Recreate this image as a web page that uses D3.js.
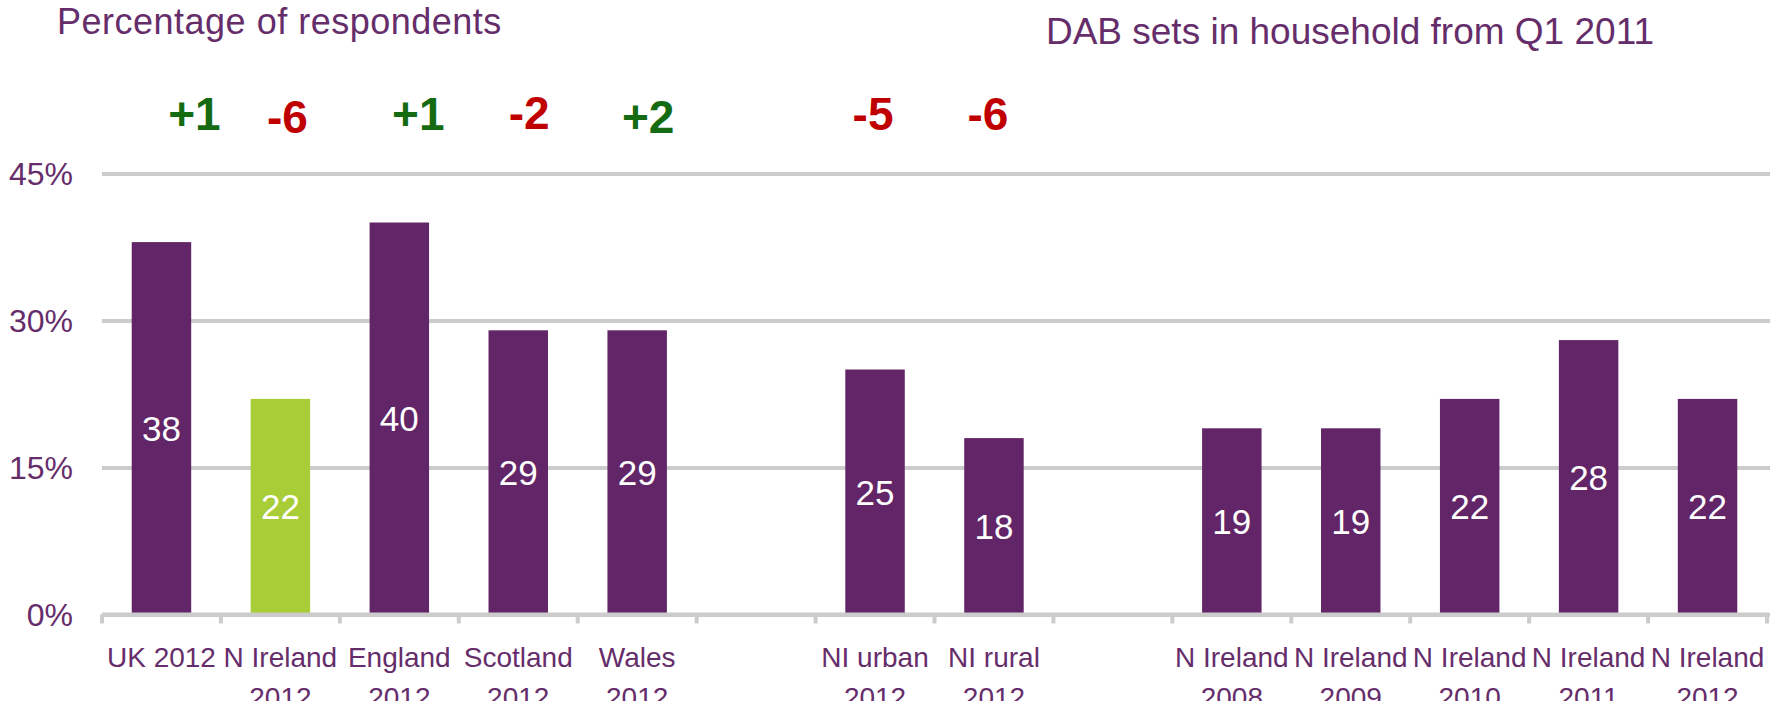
<!DOCTYPE html>
<html>
<head>
<meta charset="utf-8">
<script src="https://cdn.jsdelivr.net/npm/d3@7"></script>
<style>
  body { margin: 0; background: #fff; }
  svg { display: block; font-family: "Liberation Sans", Arial, sans-serif; }
</style>
</head>
<body>
<svg width="1783" height="701"></svg>
<script>
// chart data
const categories = ["UK 2012", "N Ireland 2012", "England 2012", "Scotland 2012", "Wales 2012", "",
    "NI urban 2012", "NI rural 2012", "",
    "N Ireland 2008", "N Ireland 2009", "N Ireland 2010", "N Ireland 2011", "N Ireland 2012"];
const values = [38, 22, 40, 29, 29, null, 25, 18, null, 19, 19, 22, 28, 22];
const changes = ["+1", "-6", "+1", "-2", "+2", null, "-5", "-6", null, null, null, null, null, null];
const highlightIndex = 1;
const yTicks = [0, 15, 30, 45];

// small horizontal nudges of the change labels, as placed in the original
const changeDx = [33, 7, 19, 11, 11, 0, -2, -6, 0, 0, 0, 0, 0, 0];
const changeY = [129.5, 133, 129.5, 128.5, 133, 0, 130, 130];

const svg = d3.select("svg");
const purple = "#622567";
const textPurple = "#662d6b";
const green = "#a8cd37";
const grid = "#cccccc";

const plotLeft = 102, plotRight = 1767, plotTop = 173.5, plotBottom = 614.5;

const x = d3.scaleBand()
    .domain(d3.range(categories.length))
    .range([plotLeft, plotRight])
    .paddingInner(0.5)
    .paddingOuter(0.25);

const y = d3.scaleLinear()
    .domain([0, 45])
    .range([plotBottom, plotTop]);

// titles
svg.append("text")
    .attr("x", 57)
    .attr("y", 34)
    .attr("fill", textPurple)
    .style("font-size", "36px")
    .style("letter-spacing", "0.5px")
    .text("Percentage of respondents");

svg.append("text")
    .attr("x", 1350)
    .attr("y", 44)
    .attr("text-anchor", "middle")
    .attr("fill", textPurple)
    .style("font-size", "37px")
    .text("DAB sets in household from Q1 2011");

// y axis with gridlines
const yAxis = svg.append("g")
    .attr("transform", `translate(${plotLeft},0)`)
    .call(d3.axisLeft(y)
        .tickValues(yTicks)
        .tickSize(-(plotRight - plotLeft + 3))
        .tickPadding(29)
        .tickFormat(d => d + "%"));

yAxis.select(".domain").remove();
yAxis.selectAll("line")
    .attr("stroke", grid)
    .attr("stroke-width", 4);
yAxis.selectAll("text")
    .attr("fill", textPurple)
    .style("font-size", "32px")
    .attr("dy", "0.35em");

// x axis tick marks at category boundaries
const step = x.step();
svg.append("g")
    .selectAll("line")
    .data(d3.range(categories.length + 1))
    .enter().append("line")
    .attr("x1", i => plotLeft + i * step)
    .attr("x2", i => plotLeft + i * step)
    .attr("y1", plotBottom)
    .attr("y2", plotBottom + 9)
    .attr("stroke", grid)
    .attr("stroke-width", 4);

// bars
const data = categories.map((c, i) => ({ i, name: c, value: values[i], change: changes[i] }));
const barData = data.filter(d => d.value != null);

svg.append("g")
    .selectAll("rect")
    .data(barData)
    .enter().append("rect")
    .attr("x", d => x(d.i))
    .attr("y", d => y(d.value))
    .attr("width", x.bandwidth())
    .attr("height", d => plotBottom - y(d.value))
    .attr("fill", d => d.i === highlightIndex ? green : purple);

// value labels, centred in the bars
svg.append("g")
    .selectAll("text")
    .data(barData)
    .enter().append("text")
    .attr("x", d => x(d.i) + x.bandwidth() / 2)
    .attr("y", d => (y(d.value) + plotBottom) / 2)
    .attr("dy", "0.36em")
    .attr("text-anchor", "middle")
    .attr("fill", "#fff")
    .style("font-size", "35px")
    .text(d => d.value);

// change labels above the chart
svg.append("g")
    .selectAll("text")
    .data(data.filter(d => d.change))
    .enter().append("text")
    .attr("x", d => x(d.i) + x.bandwidth() / 2 + changeDx[d.i])
    .attr("y", d => changeY[d.i])
    .attr("text-anchor", "middle")
    .attr("fill", d => d.change.startsWith("+") ? "#156b12" : "#c00000")
    .style("font-size", "46px")
    .style("font-weight", "bold")
    .text(d => d.change);

// x axis line
svg.append("line")
    .attr("x1", plotLeft)
    .attr("x2", plotRight + 2)
    .attr("y1", plotBottom)
    .attr("y2", plotBottom)
    .attr("stroke", grid)
    .attr("stroke-width", 4);

// category labels, wrapped to the band width
const catLabels = svg.append("g")
    .selectAll("text")
    .data(data.filter(d => d.name))
    .enter().append("text")
    .attr("x", d => x(d.i) + x.bandwidth() / 2)
    .attr("y", 667)
    .attr("text-anchor", "middle")
    .attr("fill", textPurple)
    .style("font-size", "28px");

catLabels.each(function(d) {
    const t = d3.select(this);
    const words = d.name.split(" ");
    let line = [];
    const lines = [];
    const probe = t.append("tspan");
    words.forEach(w => {
        probe.text(line.concat(w).join(" "));
        if (probe.node().getComputedTextLength() > step && line.length) {
            lines.push(line.join(" "));
            line = [w];
        } else {
            line.push(w);
        }
    });
    lines.push(line.join(" "));
    probe.remove();
    lines.forEach((l, k) => {
        t.append("tspan")
            .attr("x", x(d.i) + x.bandwidth() / 2)
            .attr("dy", k === 0 ? 0 : 40)
            .text(l);
    });
});
</script>
</body>
</html>
